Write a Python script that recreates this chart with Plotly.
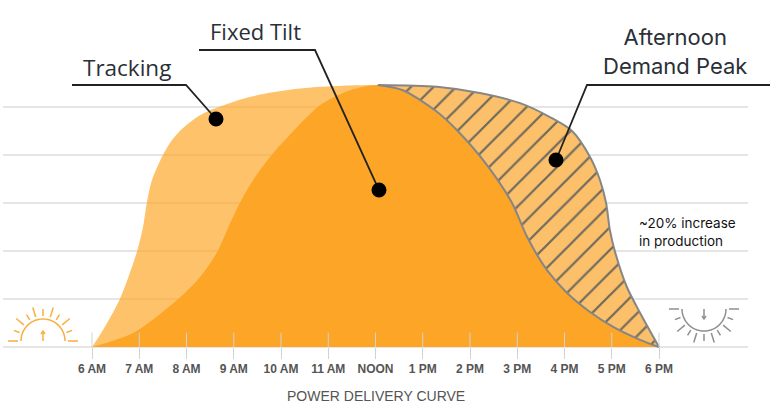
import math
import plotly.graph_objects as go

W, H = 780, 418
tick_hours = [6, 7, 8, 9, 10, 11, 12, 13, 14, 15, 16, 17, 18]
tick_labels = ["6 AM", "7 AM", "8 AM", "9 AM", "10 AM", "11 AM", "NOON", "1 PM", "2 PM", "3 PM", "4 PM", "5 PM", "6 PM"]
grid_levels = [0, 1, 2, 3, 4, 5]

PEAK = 12.05
tracking_hours = [6, 6.23, 6.59, 6.95, 7.08, 7.16, 7.27, 7.48, 7.65, 7.86, 8.18, 8.5, 9.03, 9.56, 10.19, 10.83, 11.46, PEAK,
                  13.3, 14.21, 15.06, 15.69, 16.16, 16.54, 16.75, 16.88, 16.96, 17.07, 17.32, 17.6, 18]
tracking_power = [0, 0.35, 1.0, 1.98, 2.5, 3.0, 3.48, 3.96, 4.25, 4.5, 4.76, 4.93, 5.12, 5.26, 5.36, 5.42, 5.45, 5.46,
                  5.42, 5.29, 5.08, 4.79, 4.5, 3.96, 3.48, 3.0, 2.44, 1.98, 1.25, 0.71, 0]
fixed_hours = [6, 6.87, 7.8, 8.29, 8.65, 8.86, 9.13, 9.41, 9.77, 10.19, 10.83, 11.46, PEAK,
               12.58, 13.3, 13.72, 14.36, 14.89, 15.21, 15.63, 16.05, 16.54, 17.03, 17.6, 18]
fixed_power = [0, 0.29, 0.98, 1.46, 1.98, 2.44, 3.0, 3.48, 3.96, 4.42, 5.04, 5.35, 5.46,
               5.35, 4.9, 4.52, 3.79, 3.0, 2.29, 1.6, 1.13, 0.73, 0.42, 0.15, 0]

track_i = tracking_hours.index(PEAK)
fixed_i = fixed_hours.index(PEAK)

# axis frame (page pixel to data mapping)
X0, PXH = 92, 47.25
Y0, PXV = 347, 48
x_range = [6 - X0 / PXH, 6 + (W - X0) / PXH]
y_range = [(Y0 - H) / PXV, Y0 / PXV]

GRID = "#dcdcdc"
ORANGE = "#FCA526"
LIGHT = "rgba(252,165,35,0.68)"
GRAY = "#868686"
SPLINE = dict(shape="spline", smoothing=0.8)

fig = go.Figure()
fig.add_trace(go.Scatter(x=tracking_hours, y=tracking_power, mode="lines", line=dict(width=0, color=LIGHT, **SPLINE),
                         fill="tozeroy", fillcolor=LIGHT, hoverinfo="skip"))
fig.add_trace(go.Scatter(x=fixed_hours, y=fixed_power, mode="lines", line=dict(width=0, color=ORANGE, **SPLINE),
                         fill="tozeroy", fillcolor=ORANGE, hoverinfo="skip"))
fig.add_trace(go.Scatter(x=fixed_hours[fixed_i:], y=fixed_power[fixed_i:], mode="lines",
                         line=dict(width=2, color=GRAY, **SPLINE), hoverinfo="skip"))
fig.add_trace(go.Scatter(x=tracking_hours[track_i:], y=tracking_power[track_i:], mode="lines",
                         line=dict(width=2, color=GRAY, **SPLINE), fill="tonexty",
                         fillcolor="#FDC06A",
                         fillpattern=dict(shape="/", size=16, solidity=0.14, fgcolor="#6f6a5c", bgcolor="#FDC06A", fillmode="replace"),
                         hoverinfo="skip"))
# upper half of hour ticks, drawn over the fill
tx, ty = [], []
for h in tick_hours:
    tx += [h, h, None]
    ty += [0, 0.3, None]
fig.add_trace(go.Scatter(x=tx, y=ty, mode="lines", line=dict(color="#d2d2d2", width=1), hoverinfo="skip"))


def P(x, y):
    return x / W, 1 - y / H


def line(points, color="black", width=1.5, layer="above"):
    path = ""
    for i, (x, y) in enumerate(points):
        a, b = P(x, y)
        path += f"{'M' if i == 0 else 'L'}{a:.5f},{b:.5f} "
    return dict(type="path", xref="paper", yref="paper", path=path, line=dict(color=color, width=width), layer=layer)


shapes = []
for lv in grid_levels:
    py = Y0 - lv * PXV
    shapes.append(line([(3, py), (748, py)], GRID, 1.6, "below"))

# leader lines
shapes.append(line([(72, 85), (186, 85), (216, 119)], "#222", 1.8))
shapes.append(line([(199, 50), (315, 50), (379, 190)], "#222", 1.8))
shapes.append(line([(770, 85), (587, 85), (556, 160)], "#222", 1.8))


def sun(cx, cy, sign, color):
    out = []
    arc = [(cx + 22 * math.cos(math.radians(a)), cy - sign * 22 * math.sin(math.radians(a))) for a in range(0, 181, 6)]
    out.append(line(arc, color, 1.5))
    for a, r in [(0, 35), (20, 31), (40, 35), (58, 31), (73, 35), (90, 32), (107, 35), (122, 31), (140, 35), (160, 31), (180, 35)]:
        c, s = math.cos(math.radians(a)), math.sin(math.radians(a))
        out.append(line([(cx + 25 * c, cy - sign * 25 * s), (cx + r * c, cy - sign * r * s)], color, 1.5))
    out.append(line([(cx, cy), (cx, cy - sign * 9)], color, 1.5))
    out.append(line([(cx - 2, cy - sign * 7), (cx, cy - sign * 10), (cx + 2, cy - sign * 7)], color, 1.5))
    return out


shapes += sun(43, 341, 1, "#F9AE3D")
shapes += sun(704, 309, -1, "#8f8f8f")

# dots
for cx, cy in [(216, 119), (379, 190), (556, 160)]:
    a0, b0 = P(cx - 7.5, cy + 7.5)
    a1, b1 = P(cx + 7.5, cy - 7.5)
    shapes.append(dict(type="circle", xref="paper", yref="paper", x0=a0, y0=b0, x1=a1, y1=b1, fillcolor="black", line=dict(width=0)))


def label(text, x, y, size, color="#2b2f36", anchor="center", font="Open Sans"):
    a, b = P(x, y)
    return dict(text=text, x=a, y=b, xref="paper", yref="paper", showarrow=False, xanchor=anchor, yanchor="middle",
                font=dict(family=font, size=size, color=color), align=anchor)


annotations = [
    label("Tracking", 127, 67, 22.5),
    label("Fixed Tilt", 255, 31, 22),
    label("Afternoon<br>Demand Peak", 675, 51, 22, font="Inter"),
    label("~20% increase<br>in production", 637, 232, 13.5, color="#111", anchor="left", font="Inter"),
    label("POWER DELIVERY CURVE", 376, 396, 14, "#555", font="Liberation Sans"),
]

fig.update_layout(
    width=W, height=H, margin=dict(l=0, r=0, t=0, b=0), paper_bgcolor="white", plot_bgcolor="rgba(0,0,0,0)",
    showlegend=False, shapes=shapes, annotations=annotations,
    xaxis=dict(range=x_range, tickvals=tick_hours, ticktext=tick_labels, showgrid=False, zeroline=False, showline=False,
               ticks="outside", ticklen=11, tickcolor="#d2d2d2", tickwidth=1, anchor="free", position=(H - Y0) / H,
               tickfont=dict(family="Liberation Sans", size=12, color="#555", weight="bold")),
    yaxis=dict(range=y_range, visible=False, showgrid=False, zeroline=False, domain=[0, 1]),
)
fig.write_html("out.html", post_script="document.body.style.margin='0';", config={"displayModeBar": False})
